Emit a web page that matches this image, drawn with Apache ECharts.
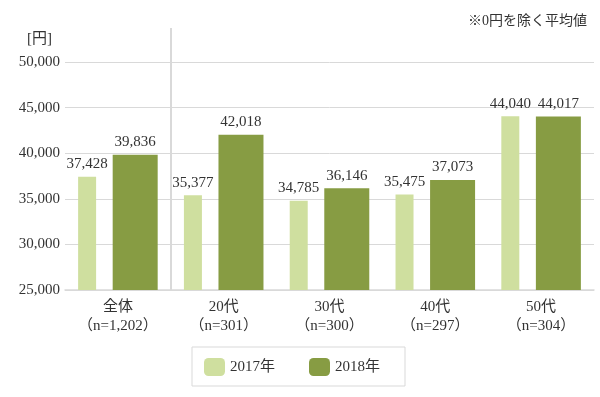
<!DOCTYPE html>
<html>
<head>
<meta charset="utf-8">
<title>平均値</title>
<style>
html, body { margin: 0; padding: 0; background: #fff; }
#main { width: 600px; height: 397px; }
</style>
</head>
<body>
<div id="main"></div>
<script src="https://cdn.jsdelivr.net/npm/echarts@6/dist/echarts.min.js"></script>
<script>
var categories = ['全体\n（n=1,202）', '20代\n（n=301）', '30代\n（n=300）', '40代\n（n=297）', '50代\n（n=304）'];
var seriesNames = ['2017年', '2018年'];
var values2017 = [37428, 35377, 34785, 35475, 44040];
var values2018 = [39836, 42018, 36146, 37073, 44017];
var yTicks = [25000, 30000, 35000, 40000, 45000, 50000];

var FONT = '"Liberation Serif", "DejaVu Serif", "Noto Sans CJK JP", serif';
var TEXT = '#333';
var LINE = '#d9d9d9';

var myChart = echarts.init(document.getElementById('main'), null, { renderer: 'canvas' });

function fmt(v) {
    return v.toLocaleString('en-US');
}

var labelStyle = {
    show: true,
    position: 'top',
    distance: 5,
    color: TEXT,
    fontFamily: FONT,
    fontSize: 15,
    formatter: function (p) { return fmt(p.value); }
};

var option = {
    animation: false,
    backgroundColor: '#fff',
    textStyle: { fontFamily: FONT },
    title: [{
        text: '[円]',
        left: 22,
        top: 27,
        textStyle: { fontFamily: FONT, fontSize: 15, fontWeight: 'normal', color: TEXT }
    }, {
        text: '※0円を除く平均値',
        right: 8,
        top: 9,
        textStyle: { fontFamily: FONT, fontSize: 14, fontWeight: 'normal', color: TEXT }
    }],
    legend: {
        left: 192,
        top: 347,
        padding: [11, 25, 10, 12],
        itemWidth: 21,
        itemHeight: 18,
        itemGap: 34,
        borderColor: LINE,
        borderWidth: 1,
        textStyle: { fontFamily: FONT, fontSize: 15, color: TEXT },
        data: seriesNames
    },
    grid: {
        left: 65,
        right: 6,
        top: 62,
        bottom: 107,
        containLabel: false
    },
    xAxis: {
        type: 'category',
        data: categories,
        axisLine: { lineStyle: { color: LINE, width: 1.5 } },
        axisTick: { show: false },
        axisLabel: {
            color: TEXT,
            fontFamily: FONT,
            fontSize: 15,
            lineHeight: 19,
            margin: 8,
            interval: 0
        }
    },
    yAxis: {
        type: 'value',
        min: yTicks[0],
        max: yTicks[yTicks.length - 1],
        interval: yTicks[1] - yTicks[0],
        axisLine: { show: false },
        axisTick: { show: false },
        splitLine: { lineStyle: { color: LINE, width: 1 } },
        axisLabel: {
            color: TEXT,
            fontFamily: FONT,
            fontSize: 15,
            margin: 5,
            formatter: function (v) { return fmt(v); }
        }
    },
    series: [{
        name: seriesNames[0],
        type: 'bar',
        data: values2017,
        barWidth: 18,
        barGap: '92%',
        itemStyle: { color: '#cfdf9f' },
        label: labelStyle
    }, {
        name: seriesNames[1],
        type: 'bar',
        data: values2018,
        barWidth: 45,
        itemStyle: { color: '#879c43' },
        label: labelStyle
    }]
};
myChart.setOption(option);

// separator between 全体 and the age groups
var c0 = myChart.convertToPixel({ xAxisIndex: 0 }, categories[0]);
var c1 = myChart.convertToPixel({ xAxisIndex: 0 }, categories[1]);
var yBottom = myChart.convertToPixel({ yAxisIndex: 0 }, yTicks[0]);
var sepX = Math.round((c0 + c1) / 2);
myChart.setOption({
    graphic: [{
        type: 'line',
        shape: { x1: sepX, y1: 28, x2: sepX, y2: yBottom },
        style: { stroke: LINE, lineWidth: 2 },
        z: 10
    }]
});

window.onresize = myChart.resize;
</script>
</body>
</html>
